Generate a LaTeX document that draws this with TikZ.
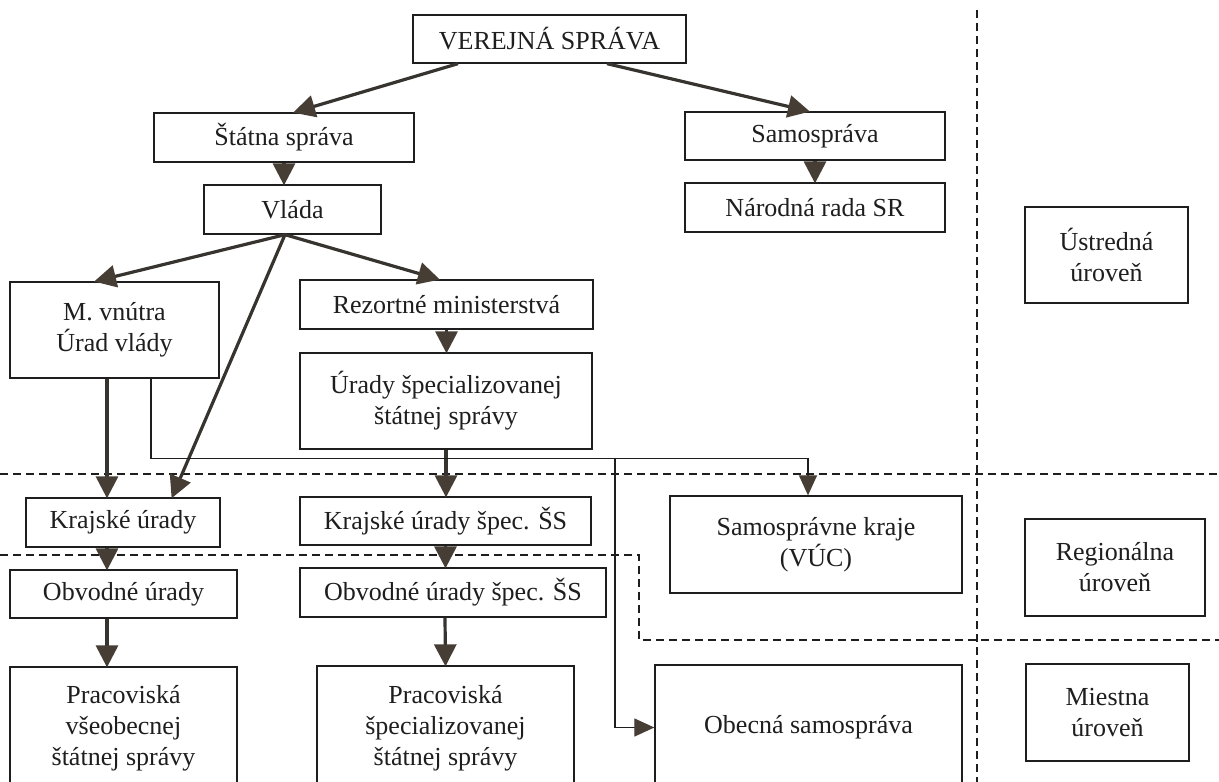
\documentclass[tikz,border=0pt]{standalone}
\usepackage{fontspec}
\setmainfont{Liberation Serif}
\usetikzlibrary{arrows.meta}
\definecolor{ink}{RGB}{30,30,30}
\definecolor{arrowln}{RGB}{55,52,48}
\definecolor{arrowfill}{RGB}{70,62,52}
\tikzset{
  box/.style={draw=ink, line width=1.3pt, inner sep=0pt, align=center, text=ink},
  thk/.style={draw=arrowln, line width=3.2pt,
    -{Triangle[width=22pt,length=22pt,fill=arrowfill,color=arrowfill]}, shorten >=-1pt},
  thn/.style={draw=ink, line width=1.2pt,
    -{Triangle[width=18pt,length=20pt,fill=arrowfill,color=arrowfill]}},
  lvl/.style={draw=ink, line width=1.5pt, dash pattern=on 8pt off 5pt},
}
\begin{document}
\begin{tikzpicture}[x=1pt, y=-1pt, font=\fontsize{26}{31}\selectfont]
\path[use as bounding box, clip] (0,0) rectangle (1219,782);
\fill[white] (0,0) rectangle (1219,782);

% level separators
\draw[lvl] (977,10) -- (977,790);
\draw[lvl] (0,474) -- (1219,474);
\draw[lvl] (0,555) -- (639,555) -- (639,640) -- (1219,640);

% nodes
\node[box, minimum width=273, minimum height=48] (ver) at (549.5,39) {VEREJNÁ SPRÁVA};
\node[box, minimum width=260, minimum height=49] (statna) at (284,137.5) {Štátna správa};
\node[box, minimum width=177, minimum height=49] (vlada) at (292.5,209.5) {Vláda};
\node[box, minimum width=260, minimum height=48] (samo) at (815,136) {Samospráva};
\node[box, minimum width=260, minimum height=49] (narodna) at (815,207.5) {Národná rada SR};
\node[box, minimum width=163, minimum height=96] (ustredna) at (1106.5,255) {Ústredná\\úroveň};
\node[box, minimum width=209, minimum height=96] (mvnutra) at (114.5,330) {M. vnútra\\Úrad vlády};
\node[box, minimum width=293, minimum height=49] (rezort) at (446.5,304.5) {Rezortné ministerstvá};
\node[box, minimum width=292, minimum height=96] (uradysp) at (446,401) {Úrady špecializovanej\\štátnej správy};
\node[box, minimum width=194, minimum height=49] (krajske) at (123,522.5) {Krajské úrady};
\node[box, minimum width=291, minimum height=48] (krajsp) at (445.5,521) {Krajské úrady špec. ŠS};
\node[box, minimum width=292, minimum height=97] (samokraje) at (816,544.5) {Samosprávne kraje\\(VÚC)};
\node[box, minimum width=180, minimum height=97] (region) at (1115,567.5) {Regionálna\\úroveň};
\node[box, minimum width=227, minimum height=48] (obvodne) at (123.5,594) {Obvodné úrady};
\node[box, minimum width=306, minimum height=49] (obvodsp) at (453,592.5) {Obvodné úrady špec. ŠS};
\node[box, minimum width=227, minimum height=123] (pracvs) at (123.5,728.5) {Pracoviská\\všeobecnej\\štátnej správy};
\node[box, minimum width=257, minimum height=124] (pracsp) at (445.5,728) {Pracoviská\\špecializovanej\\štátnej správy};
\node[box, minimum width=307, minimum height=125] (obecna) at (808.5,727.5) {Obecná samospráva};
\node[box, minimum width=163, minimum height=97] (miestna) at (1107.5,712.5) {Miestna\\úroveň};

% thick arrows
\draw[thk] ([xshift=-91.5]ver.south) -- ([xshift=10]statna.north);
\draw[thk] ([xshift=57.5]ver.south) -- ([xshift=-6]samo.north);
\draw[thk] (statna.south) -- (statna.south |- vlada.north);
\draw[thk] (samo.south) -- (samo.south |- narodna.north);
\draw[thk] ([xshift=-7.5]vlada.south) -- ([xshift=-19.5]mvnutra.north);
\draw[thk] ([xshift=-7.5]vlada.south) -- ([xshift=-7.5]rezort.north);
\draw[thk] ([xshift=-7.5]vlada.south) -- ([xshift=49]krajske.north);
\draw[thk] (rezort.south) -- (rezort.south |- uradysp.north);
\draw[thk] ([xshift=-7.5]mvnutra.south) -- ([xshift=-16]krajske.north);
\draw[thk] (uradysp.south) -- (uradysp.south |- krajsp.north);
\draw[thk] ([xshift=-16]krajske.south) -- ([xshift=-16.5]obvodne.north);
\draw[thk] (krajsp.south) -- (krajsp.south |- obvodsp.north);
\draw[thk] ([xshift=-16.5]obvodne.south) -- ([xshift=-16.5]pracvs.north);
\draw[thk] ([xshift=-8]obvodsp.south) -- (pracsp.north);

% thin connectors
\coordinate (br) at (615,458);
\draw[thn] ([xshift=36.5]mvnutra.south) -- ++(0,80) -| ([xshift=-8]samokraje.north);
\draw[thn] (br) |- (obecna.west);
\end{tikzpicture}
\end{document}
